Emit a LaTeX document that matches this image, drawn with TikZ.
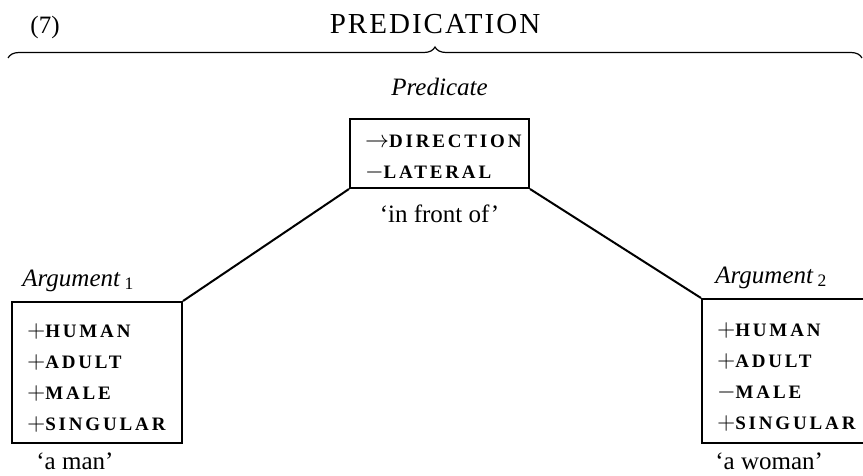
\documentclass[tikz,border=0pt]{standalone}
\usepackage{fontspec}
\setmainfont{Liberation Serif}
\newfontfamily\featfont[LetterSpace=15]{Liberation Serif}
\newfontfamily\headfont[LetterSpace=7]{Liberation Serif}
\usetikzlibrary{positioning,decorations.pathreplacing}
\newcommand{\plusf}{{\fontsize{13}{15.5}\selectfont$+$}}
\newcommand{\minusf}{{\fontsize{13}{15.5}\selectfont$-$}}
\newcommand{\arrowf}{{\fontsize{12}{15.5}\selectfont$\rightarrow$}}
\newcommand{\topstrut}[1]{\rule{0pt}{#1}}

\begin{document}
\begin{tikzpicture}[
  x=0.5pt, y=-0.5pt,
  font=\fontsize{12.5}{15}\selectfont,
  featbox/.style={draw, line width=1pt, align=left, inner xsep=7.5pt, inner ysep=0pt,
              font=\featfont\bfseries\fontsize{9.5}{15.5}\selectfont},
  lbl/.style={inner sep=0pt},
  conn/.style={line width=1pt},
  brc/.style={decorate, decoration={brace, amplitude=5.5pt}, line width=0.6pt}]
\useasboundingbox (0,0) rectangle (863,476);
\node[lbl] (num) at (45,27) {(7)};
\node[lbl, font=\headfont\fontsize{14.5}{16}\selectfont] (head) at (435,24) {PREDICATION};
\coordinate (brl) at (8,58);
\coordinate (brr) at (862,58);
\draw[brc] (brl) -- (brr);
% predicate
\node[featbox, text width=74.5pt, minimum height=34.5pt] (pred) at (439.5,153.5)
  {\topstrut{10.5pt}\arrowf DIRECTION\\\minusf LATERAL};
\node[lbl, above=11pt of pred] (predlbl) {\textit{Predicate}};
\node[lbl, below=7.5pt of pred] (predgl) {`in front of'};
% arguments
\node[featbox, text width=70pt, minimum height=70.5pt] (arg1) at (97,372.5)
  {\topstrut{12.5pt}\plusf HUMAN\\\plusf ADULT\\\plusf MALE\\\plusf SINGULAR};
\node[featbox, text width=70pt, minimum height=72pt, anchor=north west] (arg2) at (701,298)
  {\topstrut{12.5pt}\plusf HUMAN\\\plusf ADULT\\\minusf MALE\\\plusf SINGULAR};
\node[lbl, above right=4.5pt and 5.5pt of arg1.north west] (arg1lbl)
  {\textit{Argument}\,\textsubscript{1}};
\node[lbl, below right=4pt and 12.5pt of arg1.south west] (arg1gl) {`a man'};
\node[lbl, above right=4.5pt and 7pt of arg2.north west] (arg2lbl)
  {\textit{Argument}\,\textsubscript{2}};
\node[lbl, below right=4pt and 7pt of arg2.south west] (arg2gl) {`a woman'};
\draw[conn] (pred.south west) -- (arg1.north east);
\draw[conn] (pred.south east) -- (arg2.north west);
\end{tikzpicture}
\end{document}
